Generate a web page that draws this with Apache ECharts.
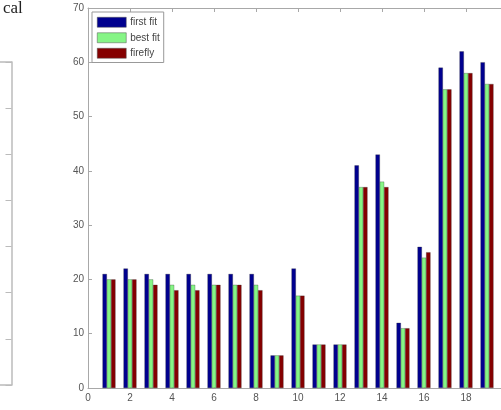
<!DOCTYPE html>
<html>
<head>
<meta charset="utf-8">
<script src="https://cdn.jsdelivr.net/npm/echarts@6/dist/echarts.min.js"></script>
<style>html,body{margin:0;padding:0;background:#fff;}#c{width:501px;height:410px;}</style>
</head>
<body>
<div id="c"></div>
<script>
var groups = [1,2,3,4,5,6,7,8,9,10,11,12,13,14,15,16,17,18,19];
var firstFit = [21,22,21,21,21,21,21,21,6,22,8,8,41,43,12,26,59,62,60];
var bestFit  = [20,20,20,19,19,19,19,19,6,17,8,8,37,38,11,24,55,58,56];
var firefly  = [20,20,19,18,18,19,19,18,6,17,8,8,37,37,11,25,55,58,56];
var seriesNames = ['first fit','best fit','firefly'];
var seriesColors = ['#00008f','#86f586','#850000'];
var yTicks = [0,10,20,30,40,50,60,70];

function pairs(vals){ return groups.map(function(g,i){ return [g, vals[i]]; }); }
var allVals = [firstFit, bestFit, firefly];

var chart = echarts.init(document.getElementById('c'), null, {renderer:'canvas'});
var axisGray = '#a8a8a8';
var labelGray = '#555';
var series = allVals.map(function(v, i){
  return {
    name: seriesNames[i], type: 'bar', xAxisIndex: 0, yAxisIndex: 0,
    data: pairs(v), barWidth: 4.3, barGap: '0%',
    itemStyle: {color: seriesColors[i], borderColor: '#333', borderWidth: 0.3},
    animation: false
  };
});
chart.setOption({
  animation: false,
  title: {text: 'cal', left: 3, top: 0, padding: 0, textStyle: {fontFamily: 'Liberation Serif', fontWeight: 'normal', fontSize: 17, color: '#222'}},
  legend: {
    data: seriesNames, orient: 'vertical', left: 92, top: 12,
    padding: [5, 4, 4, 5], itemGap: 5, itemWidth: 29, itemHeight: 10,
    borderColor: '#999', borderWidth: 1, backgroundColor: '#fff',
    icon: 'rect',
    itemStyle: {borderColor: '#555', borderWidth: 0.5},
    textStyle: {fontFamily: 'Liberation Sans', fontSize: 10, color: '#444', padding: [0,0,0,-1]}
  },
  grid: [
    {left: 88, top: 8, width: 420, height: 380, containLabel: false, outerBoundsMode: 'none'},
    {left: -100, top: 62, width: 111.5, height: 323, containLabel: false, outerBoundsMode: 'none'}
  ],
  xAxis: [
    {type: 'value', gridIndex: 0, min: 0, max: 20, interval: 2, position: 'bottom',
     axisLine: {show: true, lineStyle: {color: axisGray}},
     axisTick: {show: true, inside: true, length: 4, lineStyle: {color: axisGray}},
     axisLabel: {color: labelGray, fontSize: 10, fontFamily: 'Liberation Sans', margin: 5},
     splitLine: {show: false}},
    {type: 'value', gridIndex: 0, min: 0, max: 20, interval: 2, position: 'top',
     axisLine: {show: true, lineStyle: {color: axisGray}},
     axisTick: {show: true, inside: true, length: 4, lineStyle: {color: axisGray}},
     axisLabel: {show: false}, splitLine: {show: false}},
    {type: 'value', gridIndex: 1, min: 0, max: 1, position: 'bottom',
     axisLine: {show: true, onZero: false, lineStyle: {color: '#bbb', width: 1.5}}, axisTick: {show: false},
     axisLabel: {show: false}, splitLine: {show: false}},
    {type: 'value', gridIndex: 1, min: 0, max: 1, position: 'top',
     axisLine: {show: true, onZero: false, lineStyle: {color: '#bbb', width: 1.5}}, axisTick: {show: false},
     axisLabel: {show: false}, splitLine: {show: false}}
  ],
  yAxis: [
    {type: 'value', gridIndex: 0, min: yTicks[0], max: yTicks[yTicks.length-1], interval: 10,
     axisLine: {show: true, lineStyle: {color: axisGray}},
     axisTick: {show: true, inside: true, length: 4, lineStyle: {color: axisGray}},
     axisLabel: {color: labelGray, fontSize: 10, fontFamily: 'Liberation Sans', margin: 4},
     splitLine: {show: false}},
    {type: 'value', gridIndex: 1, min: 0, max: 7, interval: 1, position: 'right',
     axisLine: {show: true, onZero: false, lineStyle: {color: '#bbb', width: 1.5}},
     axisTick: {show: true, inside: true, length: 6, lineStyle: {color: '#bbb'}},
     axisLabel: {show: false}, splitLine: {show: false}}
  ],
  series: series
});
</script>
</body>
</html>
